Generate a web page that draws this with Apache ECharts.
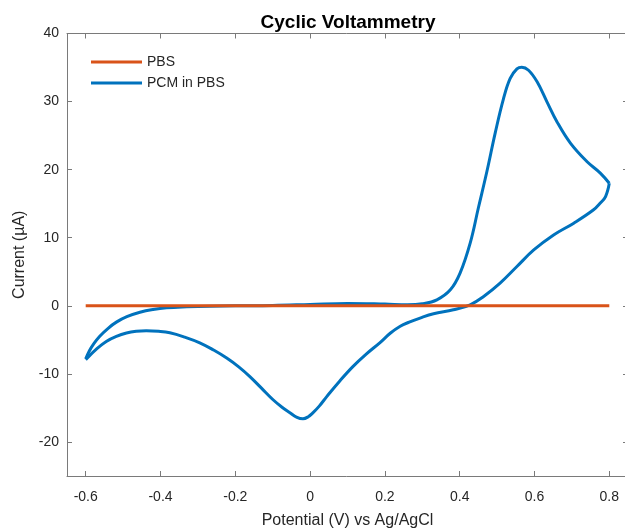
<!DOCTYPE html>
<html>
<head>
<meta charset="utf-8">
<script src="https://cdn.jsdelivr.net/npm/echarts@6.0.0/dist/echarts.min.js"></script>
<style>
  body { margin: 0; background: #fff; }
</style>
</head>
<body>
<div id="cv" style="width:625px; height:529px;"></div>
<script>
  // Tick positions
  var xTicks = [-0.6, -0.4, -0.2, 0, 0.2, 0.4, 0.6, 0.8];
  var yTicks = [-20, -10, 0, 10, 20, 30, 40];

  // PBS blank (flat)
  var pbsPotential = [-0.6, -0.4, -0.2, 0, 0.2, 0.4, 0.6, 0.8];
  var pbsCurrent = [0, 0, 0, 0, 0, 0, 0, 0];

  // PCM in PBS, forward scan (-0.6 -> 0.8 V)
  var fwdPotential = [-0.600, -0.590, -0.580, -0.563, -0.540, -0.518, -0.490, -0.455, -0.420, -0.384,
    -0.330, -0.268, -0.200, -0.100, 0.000, 0.100, 0.200, 0.260, 0.300, 0.339,
    0.375, 0.401, 0.428, 0.450, 0.473, 0.495, 0.517, 0.535, 0.553, 0.566,
    0.584, 0.607, 0.633, 0.660, 0.696, 0.740, 0.776, 0.800];
  var fwdCurrent = [-7.8, -6.6, -5.7, -4.5, -3.3, -2.4, -1.6, -0.95, -0.55, -0.3,
    -0.15, -0.05, 0.0, 0.05, 0.2, 0.35, 0.25, 0.15, 0.3, 0.88,
    2.35, 4.8, 9.2, 14.4, 19.8, 25.4, 30.4, 33.4, 34.8, 35.05,
    34.6, 32.9, 30.0, 27.05, 23.9, 21.2, 19.5, 18.0];

  // PCM in PBS, reverse scan (0.8 -> -0.6 V)
  var revPotential = [0.800, 0.790, 0.776, 0.758, 0.705, 0.651, 0.598, 0.553, 0.508, 0.464,
    0.428, 0.383, 0.330, 0.294, 0.265, 0.241, 0.215, 0.187, 0.150, 0.115,
    0.080, 0.045, 0.025, 0.008, -0.005, -0.019, -0.035, -0.054, -0.075, -0.099,
    -0.130, -0.161, -0.190, -0.223, -0.258, -0.295, -0.335, -0.375, -0.405, -0.438,
    -0.465, -0.491, -0.518, -0.545, -0.570, -0.600];
  var revCurrent = [18.0, 16.05, 15.1, 14.1, 12.14, 10.4, 8.2, 5.77, 3.33, 1.37,
    0.15, -0.59, -1.17, -1.8, -2.4, -3.0, -4.0, -5.4, -7.1, -8.9,
    -11.0, -13.3, -14.7, -15.7, -16.3, -16.6, -16.4, -15.7, -14.9, -13.8,
    -12.1, -10.4, -9.0, -7.67, -6.5, -5.43, -4.6, -3.96, -3.75, -3.67,
    -3.75, -4.0, -4.5, -5.24, -6.3, -7.9];

  function zip(xs, ys) {
    return xs.map(function (x, i) { return [x, ys[i]]; });
  }

  var font = "'Liberation Sans', Arial, Helvetica, sans-serif";
  var axisColor = '#7a7a7a';
  var textColor = '#262626';

  function xAxisDef(pos, showLabels) {
    return {
      type: 'value',
      position: pos,
      min: -0.65,
      max: 0.85,
      name: showLabels ? 'Potential (V) vs Ag/AgCl' : '',
      nameLocation: 'middle',
      nameGap: 37,
      nameTextStyle: { fontFamily: font, fontSize: 16, color: textColor },
      axisLine: { show: true, onZero: false, lineStyle: { color: axisColor, width: 1 } },
      axisTick: { show: true, inside: true, length: 5, customValues: xTicks, lineStyle: { color: axisColor } },
      axisLabel: {
        show: showLabels,
        customValues: xTicks,
        margin: 14,
        fontFamily: font, fontSize: 14, color: textColor,
        formatter: function (v) { return String(Math.round(v * 10) / 10); }
      },
      splitLine: { show: false }
    };
  }

  function yAxisDef(pos, showLabels) {
    return {
      type: 'value',
      position: pos,
      min: -25,
      max: 40,
      name: showLabels ? 'Current (\u00b5A)' : '',
      nameLocation: 'middle',
      nameGap: 37,
      nameTextStyle: { fontFamily: font, fontSize: 16, color: textColor },
      axisLine: { show: true, onZero: false, lineStyle: { color: axisColor, width: 1 } },
      axisTick: { show: true, inside: true, length: 5, customValues: yTicks, lineStyle: { color: axisColor } },
      axisLabel: {
        show: showLabels,
        customValues: yTicks,
        margin: 8,
        fontFamily: font, fontSize: 14, color: textColor
      },
      splitLine: { show: false }
    };
  }

  var option = {
    animation: false,
    backgroundColor: '#fff',
    title: {
      text: 'Cyclic Voltammetry',
      left: 343,
      top: 8,
      textAlign: 'center',
      textStyle: { fontFamily: font, fontSize: 19, fontWeight: 'bold', color: '#000' }
    },
    legend: {
      data: ['PBS', 'PCM in PBS'],
      orient: 'vertical',
      left: 86,
      top: 50,
      icon: 'rect',
      itemWidth: 51,
      itemHeight: 3,
      itemGap: 7,
      textStyle: { fontFamily: font, fontSize: 14, color: textColor }
    },
    grid: { left: 67, top: 33.5, right: -3, bottom: 53, containLabel: false, outerBoundsMode: 'none' },
    xAxis: [xAxisDef('bottom', true), xAxisDef('top', false)],
    yAxis: [yAxisDef('left', true), yAxisDef('right', false)],
    series: [
      {
        name: 'PCM in PBS',
        type: 'line',
        data: zip(fwdPotential, fwdCurrent),
        symbol: 'none',
        smooth: 0.4,
        z: 2,
        lineStyle: { color: '#0072BD', width: 3 },
        itemStyle: { color: '#0072BD' }
      },
      {
        name: 'PCM in PBS',
        type: 'line',
        data: zip(revPotential, revCurrent),
        symbol: 'none',
        smooth: 0.4,
        z: 2,
        lineStyle: { color: '#0072BD', width: 3 },
        itemStyle: { color: '#0072BD' }
      },
      {
        name: 'PBS',
        type: 'line',
        data: zip(pbsPotential, pbsCurrent),
        symbol: 'none',
        z: 3,
        lineStyle: { color: '#D95319', width: 3 },
        itemStyle: { color: '#D95319' }
      }
    ]
  };

  var chart = echarts.init(document.getElementById('cv'));
  chart.setOption(option);
</script>
</body>
</html>
